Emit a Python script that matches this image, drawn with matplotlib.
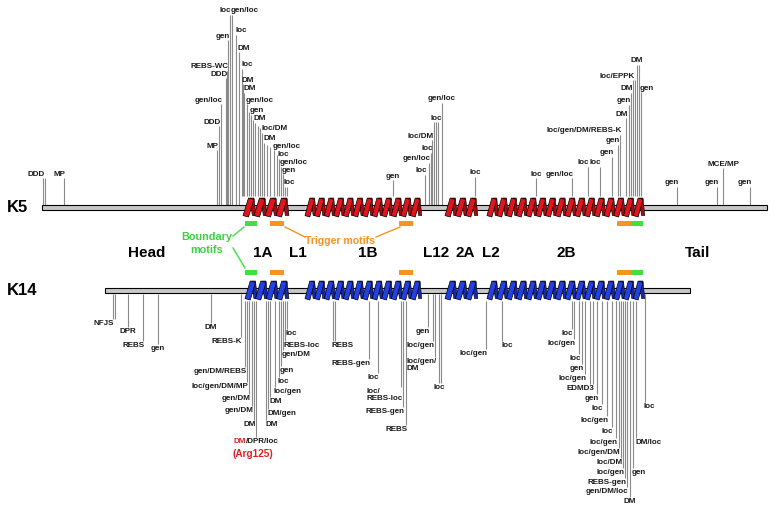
import matplotlib.pyplot as plt
from matplotlib.patches import Polygon, Rectangle

plt.rcParams['font.family'] = ['Liberation Sans', 'DejaVu Sans']

# rod layout along x (figure pixels)
k5_span = (42, 767)
k14_span = (105, 690)
helix_start = [243, 305, 445, 487]
helix_end = [287, 420, 476, 643]
helix_turns = [4, 12, 3, 16]

domain_names = ['Head', '1A', 'L1', '1B', 'L12', '2A', 'L2', '2B', 'Tail']
domain_x = [147, 263, 298, 368, 436, 465, 491, 566, 698]

boundary_motifs = [(245, 257), (631, 643)]
trigger_motifs = [(270, 284), (399, 413), (617, 631)]

# K5 mutations: position, line top, label, label side
k5_pos = [43, 45, 64,
          217, 219, 221, 226, 227, 228, 229.5, 232, 236, 239, 242, 243, 244, 247, 249,
          251, 253, 255, 258, 260, 262, 264, 267, 270, 274, 277, 279, 281, 283, 285, 287,
          393, 425, 429, 431, 432, 434, 436, 438, 442, 475,
          536, 572, 588, 600, 612, 618, 620, 626, 629, 631, 633, 635, 637, 639, 641,
          677, 717, 723, 750]
k5_top = [178, 178, 178,
          150, 126, 104, 78, 71, 40, 15, 15, 35, 52, 69, 84, 93, 104, 112,
          115, 120, 123, 126, 128, 133, 143, 145, 147, 150, 155, 159, 167, 174, 187, 187,
          180, 175, 163, 153, 140, 122, 122, 122, 103, 177,
          178, 178, 167, 167, 157, 145, 135, 118, 105, 93, 80, 80, 65, 65, 92,
          187, 187, 168, 187]
k5_lab = ['DDD', '', 'MP',
          'MP', 'DDD', 'gen/loc', 'DDD', 'REBS-WC', 'gen', 'loc', 'gen/loc', 'loc', 'DM',
          'loc', 'DM', 'DM', 'gen/loc', '', 'gen', '', 'DM', '', '', 'loc/DM', 'DM', '', '',
          'gen/loc', '', 'loc', 'gen/loc', 'gen', 'loc', '',
          'gen', 'loc', 'gen/loc', 'loc', 'loc/DM', '', 'loc', '', 'gen/loc', 'loc',
          'loc', 'gen/loc', 'loc', 'loc', 'gen', 'gen', 'loc/gen/DM/REBS-K', 'DM', 'gen',
          'DM', 'loc/EPPK', '', 'DM', '', 'gen',
          'gen', 'gen', 'MCE/MP', 'gen']
k5_side = ['r', '', 'r',
           'r', 'r', 'r', 'r', 'r', 'r', 'r', 'l', 'l', 'l', 'l', 'l', 'l', 'l', '',
           'l', '', 'l', '', '', 'l', 'l', '', '', 'l', '', 'l', 'l', 'l', 'l', '',
           'c', 'r', 'r', 'r', 'r', '', 'c', '', 'c', 'c',
           'c', 'r', 'r', 'r', 'r', 'r', 'r', 'r', 'r', 'r', 'r', '', 'c', '', 'l',
           'r', 'r', 'c', 'r']

# K14 mutations: position, line bottom, label, label side
k14_pos = [113, 115, 128, 143, 158, 211, 241, 245, 247, 249, 252, 254, 256,
           266, 268, 270, 275, 279, 281, 283, 285, 287,
           333, 335, 369, 378, 401, 403, 406,
           428, 433, 435, 439, 441, 486, 502,
           572, 574, 579, 582, 585, 590, 593, 597, 602, 607, 612, 616, 619, 621, 623,
           625, 627, 630, 633, 636, 645]
k14_bottom = [319, 319, 327, 341, 344, 323, 337, 367, 382, 394, 406, 420, 437,
              420, 409, 397, 387, 377, 366, 350, 341, 329,
              341, 341, 359, 373, 387, 407, 425,
              327, 341, 357, 383, 383, 349, 341,
              329, 339, 354, 364, 374, 384, 384, 394, 404, 416, 427, 438, 448, 458, 468,
              478, 487, 497, 468, 438, 402]
k14_lab = ['NFJS', '', 'DPR', 'REBS', 'gen', 'DM', 'REBS-K', 'gen/DM/REBS', 'loc/gen/DM/MP',
           'gen/DM', 'gen/DM', 'DM', '',
           'DM', 'DM/gen', 'DM', 'loc/gen', 'loc', 'gen', 'gen/DM', 'REBS-loc', 'loc',
           'REBS', '', 'REBS-gen', 'loc', 'loc/\nREBS-loc', 'REBS-gen', 'REBS',
           'gen', 'loc/gen', 'loc/gen/\nDM', 'loc', '', 'loc/gen', 'loc',
           'loc', 'loc/gen', 'loc', 'gen', 'loc/gen', '', 'EDMD3', 'gen', 'loc', 'loc/gen',
           'loc', 'loc/gen', 'loc/gen/DM', 'loc/DM', 'loc/gen', 'REBS-gen', 'gen/DM/loc',
           'DM', 'gen', 'DM/loc', 'loc']
k14_side = ['r', '', 'c', 'r', 'c', 'c', 'r', 'r', 'r', 'r', 'r', 'r', '',
            'l', 'l', 'l', 'l', 'l', 'l', 'l', 'l', 'l',
            'l', '', 'r', 'r', 'r', 'r', 'r',
            'r', 'r', 'r', 'c', '', 'r', 'l',
            'r', 'r', 'r', 'r', 'r', '', 'r', 'r', 'r', 'r', 'r', 'r', 'r', 'r', 'r',
            'r', 'r', 'c', 'l', 'l', 'l']

K5_Y = 207.5
K14_Y = 290.5
LAB = dict(fontsize=5.8, fontweight='bold', color='#1a1a1a')
LINE = '#8a8a8a'


def on_helix(x):
    return any(a - 1 <= x <= b + 1 for a, b in zip(helix_start, helix_end))


def draw_helix(ax, x0, x1, n, yc, face, dark):
    p = (x1 - x0) / n
    h = 9.5
    # descending (back) strokes
    for i in range(n):
        xs = x0 + i * p
        back = [(xs + 0.62 * p, yc - h), (xs + 1.0 * p, yc - h),
                (xs + 1.18 * p, yc + h * 0.85), (xs + 0.85 * p, yc + h * 0.85)]
        ax.add_patch(Polygon(back, closed=True, fc=dark, ec='black', lw=0.4, zorder=3))
    # rising (front) strokes
    for i in range(n):
        xs = x0 + i * p
        front = [(xs, yc + h * 0.85), (xs + 0.5 * p, yc + h),
                 (xs + 1.0 * p, yc - h * 0.85), (xs + 0.5 * p, yc - h)]
        ax.add_patch(Polygon(front, closed=True, fc=face, ec='black', lw=0.5, zorder=4))


fig = plt.figure(figsize=(7.77, 5.12), dpi=100)
ax = fig.add_axes([0, 0, 1, 1])
ax.set_xlim(0, 777)
ax.set_ylim(512, 0)
ax.axis('off')

# rods
for (a, b), yc in [(k5_span, K5_Y), (k14_span, K14_Y)]:
    ax.add_patch(Rectangle((a, yc - 2.5), b - a, 5, fc='#c8c8c8', ec='black', lw=0.8, zorder=2))
for a, b, n in zip(helix_start, helix_end, helix_turns):
    draw_helix(ax, a, b, n, K5_Y, '#e3141c', '#a00c10')
    draw_helix(ax, max(a, 245), b, n, K14_Y, '#2340e6', '#1528a8')

ax.text(7, K5_Y, 'K5', fontsize=12, fontweight='bold', va='center', ha='left')
ax.text(7, K14_Y, 'K14', fontsize=12, fontweight='bold', va='center', ha='left')

# K5 mutations (up)
for x, t, lab, side in zip(k5_pos, k5_top, k5_lab, k5_side):
    bot = 196 if on_helix(x) else 204.5
    ax.plot([x, x], [bot, t], color=LINE, lw=0.8, zorder=1, solid_capstyle='butt')
    if lab:
        ha = {'r': 'right', 'l': 'left', 'c': 'center'}[side]
        dx = {'r': 1.5, 'l': -1, 'c': 0}[side]
        ax.text(x + dx, t - 0.5, lab, ha=ha, va='bottom', **LAB)

# K14 mutations (down)
for x, b, lab, side in zip(k14_pos, k14_bottom, k14_lab, k14_side):
    top = 301 if on_helix(x) else 293.5
    ax.plot([x, x], [top, b], color=LINE, lw=0.8, zorder=1, solid_capstyle='butt')
    if lab:
        ha = {'r': 'right', 'l': 'left', 'c': 'center'}[side]
        dx = {'r': 1.5, 'l': -1, 'c': 0}[side]
        ax.text(x + dx, b + 1, lab, ha=ha, va='top', multialignment='left',
                linespacing=1.0, **LAB)

# Arg125 hotspot label
ax.text(245.5, 438, 'DM', ha='right', va='top', fontsize=5.8, fontweight='bold', color='#e02020')
ax.text(245.5, 438, '/DPR/loc', ha='left', va='top', **LAB)
ax.text(253, 454, '(Arg125)', ha='center', va='center', fontsize=7.2, fontweight='bold',
        color='#e02020')

# motif markers
for y in (223.5, 272.5):
    for a, b in boundary_motifs:
        ax.add_patch(Rectangle((a, y - 2.5), b - a, 5, fc='#3fe03f', ec='none', zorder=3))
    for a, b in trigger_motifs:
        ax.add_patch(Rectangle((a, y - 2.5), b - a, 5, fc='#f7941d', ec='none', zorder=3))

ax.text(207, 237, 'Boundary', ha='center', va='center', fontsize=7.8, fontweight='bold',
        color='#3fd13f')
ax.text(207, 250, 'motifs', ha='center', va='center', fontsize=7.8, fontweight='bold',
        color='#3fd13f')
ax.plot([233, 244], [236, 227], color='#3fe03f', lw=1.0)
ax.plot([233, 245], [248, 268], color='#3fe03f', lw=1.0)

ax.text(340, 241, 'Trigger motifs', ha='center', va='center', fontsize=7.6, fontweight='bold',
        color='#f7941d')
ax.plot([285, 305], [227, 237], color='#f7941d', lw=1.0)
ax.plot([376, 400], [237, 227], color='#f7941d', lw=1.0)

for name, x in zip(domain_names, domain_x):
    ax.text(x, 253, name, ha='center', va='center', fontsize=11, fontweight='bold')

fig.savefig('out.png', dpi=100)
